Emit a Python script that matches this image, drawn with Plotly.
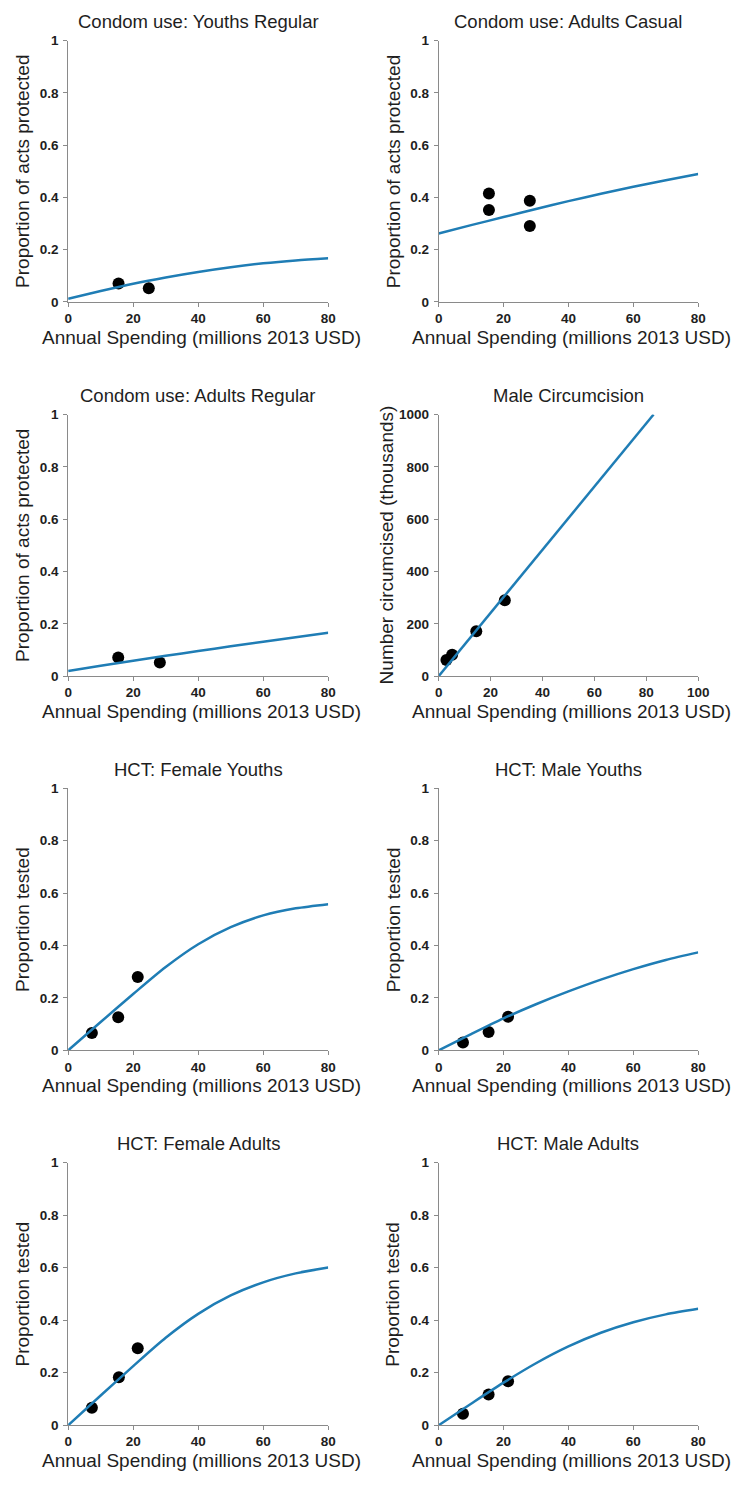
import plotly.graph_objects as go

W, H = 734, 1486

# Spending grid (millions 2013 USD) at which the fitted curves are tabulated
spend_grid = [0, 10, 20, 30, 40, 50, 60, 70, 80]

# Condom use: Youths Regular
yr_obs_x = [15.5, 24.8]
yr_obs_y = [0.071, 0.053]
yr_fit = [0.012, 0.042, 0.070, 0.094, 0.115, 0.133, 0.148, 0.159, 0.167]

# Condom use: Adults Casual
ac_obs_x = [15.5, 15.5, 28.1, 28.1]
ac_obs_y = [0.415, 0.352, 0.387, 0.291]
ac_fit = [0.262, 0.294, 0.325, 0.356, 0.386, 0.414, 0.441, 0.466, 0.490]

# Condom use: Adults Regular
ar_obs_x = [15.4, 28.2]
ar_obs_y = [0.071, 0.052]
ar_fit = [0.020, 0.040, 0.059, 0.078, 0.096, 0.114, 0.132, 0.149, 0.166]

# Male circumcision (thousands circumcised)
mc_obs_x = [3.0, 5.2, 14.5, 25.5]
mc_obs_y = [62, 82, 172, 290]
mc_fit_x = [0, 82.8]
mc_fit_y = [0, 1000]

# HCT: Female Youths
fy_obs_x = [7.3, 15.4, 21.4]
fy_obs_y = [0.066, 0.126, 0.280]
fy_fit = [0.0, 0.108, 0.215, 0.318, 0.405, 0.470, 0.515, 0.542, 0.558]

# HCT: Male Youths
my_obs_x = [7.5, 15.4, 21.4]
my_obs_y = [0.030, 0.070, 0.128]
my_fit = [0.0, 0.062, 0.122, 0.176, 0.225, 0.270, 0.310, 0.345, 0.374]

# HCT: Female Adults
fa_obs_x = [7.3, 15.6, 21.4]
fa_obs_y = [0.067, 0.183, 0.293]
fa_fit = [0.0, 0.113, 0.225, 0.333, 0.424, 0.494, 0.544, 0.578, 0.600]

# HCT: Male Adults
ma_obs_x = [7.5, 15.4, 21.4]
ma_obs_y = [0.044, 0.117, 0.167]
ma_fit = [0.0, 0.082, 0.162, 0.236, 0.300, 0.352, 0.392, 0.422, 0.443]

panel_titles = [
    "Condom use: Youths Regular", "Condom use: Adults Casual",
    "Condom use: Adults Regular", "Male Circumcision",
    "HCT: Female Youths", "HCT: Male Youths",
    "HCT: Female Adults", "HCT: Male Adults",
]
y_titles = [
    "Proportion of acts protected", "Proportion of acts protected",
    "Proportion of acts protected", "Number circumcised (thousands)",
    "Proportion tested", "Proportion tested",
    "Proportion tested", "Proportion tested",
]
x_title = "Annual Spending (millions 2013 USD)"

prop_ticks = [0, 0.2, 0.4, 0.6, 0.8, 1]
prop_ticktext = ["0", "0.2", "0.4", "0.6", "0.8", "1"]
spend_ticks = [0, 20, 40, 60, 80]
mc_x_ticks = [0, 20, 40, 60, 80, 100]
mc_y_ticks = [0, 200, 400, 600, 800, 1000]

panels = [
    (yr_obs_x, yr_obs_y, spend_grid, yr_fit),
    (ac_obs_x, ac_obs_y, spend_grid, ac_fit),
    (ar_obs_x, ar_obs_y, spend_grid, ar_fit),
    (mc_obs_x, mc_obs_y, mc_fit_x, mc_fit_y),
    (fy_obs_x, fy_obs_y, spend_grid, fy_fit),
    (my_obs_x, my_obs_y, spend_grid, my_fit),
    (fa_obs_x, fa_obs_y, spend_grid, fa_fit),
    (ma_obs_x, ma_obs_y, spend_grid, ma_fit),
]

# Plot-area geometry in pixels
col_left = [65.5, 443.7]
col_right = [331.0, 708.7]
row_top = [34.0, 411.7, 789.3, 1167.3]
row_bottom = [298.0, 676.0, 1054.0, 1432.7]
ytitle_x = [19.0, 397.0]

LINE_BLUE = "#1f7db5"
AXIS_GREY = "#8a8a8a"
FONT = "Arial, Liberation Sans, sans-serif"
TEXT = "#1e1e1e"

fig = go.Figure()
layout = dict(
    width=W, height=H,
    margin=dict(l=0, r=0, t=0, b=0),
    paper_bgcolor="white", plot_bgcolor="white",
    showlegend=False,
)
annotations = []

for i, (ox, oy, fx, fy) in enumerate(panels):
    r, c = divmod(i, 2)
    n = "" if i == 0 else str(i + 1)
    xa, ya = "x" + n, "y" + n
    is_mc = i == 3

    fig.add_trace(go.Scatter(
        x=ox, y=oy, mode="markers", xaxis=xa, yaxis=ya,
        marker=dict(color="black", size=12), cliponaxis=False,
    ))
    fig.add_trace(go.Scatter(
        x=fx, y=fy, mode="lines", xaxis=xa, yaxis=ya,
        line=dict(color=LINE_BLUE, width=2.5,
                  shape="linear" if is_mc else "spline", smoothing=0.8),
        cliponaxis=False,
    ))

    x0, x1 = col_left[c], col_right[c]
    t, b = row_top[r], row_bottom[r]
    common = dict(
        showline=True, linecolor=AXIS_GREY, linewidth=1,
        ticks="outside", ticklen=4, tickcolor=AXIS_GREY, tickwidth=1,
        showgrid=False, zeroline=False,
        tickfont=dict(family=FONT, size=13.5, color=TEXT, weight="bold"),
        fixedrange=True,
    )
    layout["xaxis" + n] = dict(
        common, domain=[x0 / W, x1 / W], anchor=ya,
        range=[0, 100] if is_mc else [0, 80],
        tickvals=mc_x_ticks if is_mc else spend_ticks,
        ticklabelstandoff=0,
    )
    if is_mc:
        layout["yaxis" + n] = dict(
            common, domain=[1 - b / H, 1 - t / H], anchor=xa,
            range=[0, 1000], tickvals=mc_y_ticks, ticklabelstandoff=2,
        )
    else:
        layout["yaxis" + n] = dict(
            common, domain=[1 - b / H, 1 - t / H], anchor=xa,
            range=[0, 1], tickvals=prop_ticks, ticktext=prop_ticktext,
            ticklabelstandoff=2,
        )

    cx = (x0 + x1) / 2
    # panel title
    annotations.append(dict(
        text=panel_titles[i], x=cx / W, y=1 - (t - 19) / H,
        xref="paper", yref="paper", showarrow=False,
        xanchor="center", yanchor="middle",
        font=dict(family=FONT, size=18.5, color=TEXT),
    ))
    # x-axis title
    annotations.append(dict(
        text=x_title, x=(cx + 3) / W, y=1 - (b + 36) / H,
        xref="paper", yref="paper", showarrow=False,
        xanchor="center", yanchor="middle",
        font=dict(family=FONT, size=19, color=TEXT),
    ))
    # y-axis title
    ytx = 390.0 if is_mc else ytitle_x[c]
    annotations.append(dict(
        text=y_titles[i], x=ytx / W, y=1 - ((t + b) / 2) / H,
        xref="paper", yref="paper", showarrow=False, textangle=-90,
        xanchor="center", yanchor="middle",
        font=dict(family=FONT, size=19, color=TEXT),
    ))

layout["annotations"] = annotations
fig.update_layout(**layout)
fig.write_html("out.html")
